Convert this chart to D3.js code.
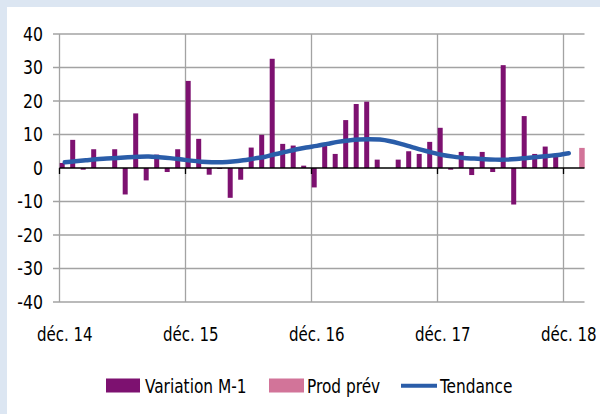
<!DOCTYPE html>
<html>
<head>
<meta charset="utf-8">
<script src="https://cdn.jsdelivr.net/npm/d3@7"></script>
<style>
  body { margin: 0; background: #dce6f2; }
  svg text { font-family: "Liberation Sans Narrow", "Arial Narrow", "DejaVu Sans Condensed", sans-serif; fill: #000; }
</style>
</head>
<body>
<div id="canvas"></div>
<script>
// months from déc. 14 to janv. 19
const months = d3.timeMonth.range(new Date(2014, 11, 1), new Date(2019, 1, 1));

const variation = [
  1.5, 8.4, -0.5, 5.6, null, 5.6, -7.9, 16.3, -3.7, 4.0, -1.2, 5.6,
  26.0, 8.7, -2.0, -0.3, -8.9, -3.5, 6.1, 9.9, 32.6, 7.2, 6.7, 0.7,
  -5.8, 6.7, 4.2, 14.3, 19.1, 19.8, 2.5, null, 2.5, 5.0, 4.2, 7.8,
  12.0, -0.5, 4.8, -2.1, 4.8, -1.2, 30.7, -10.9, 15.5, 4.2, 6.4, 3.4,
  null, null
];

const prodPrev = [
  null, null, null, null, null, null, null, null, null, null, null, null,
  null, null, null, null, null, null, null, null, null, null, null, null,
  null, null, null, null, null, null, null, null, null, null, null, null,
  null, null, null, null, null, null, null, null, null, null, null, null,
  null, 6.0
];

const tendance = [
  1.7, 2.0, 2.3, 2.6, 2.8, 3.0, 3.2, 3.35, 3.4, 3.2, 2.95, 2.6,
  2.2, 1.9, 1.75, 1.75, 1.95, 2.3, 2.8, 3.3, 4.1, 4.8, 5.5, 6.1,
  6.6, 7.2, 7.8, 8.2, 8.5, 8.6, 8.5, 8.0, 7.2, 6.3, 5.4, 4.6,
  3.9, 3.4, 3.0, 2.8, 2.6, 2.5, 2.5, 2.7, 3.0, 3.3, 3.6, 3.9,
  4.4
];

const yTicks = [-40, -30, -20, -10, 0, 10, 20, 30, 40];
const xTickIdx = [0, 12, 24, 36, 48];
const xTickLabels = ['déc. 14', 'déc. 15', 'déc. 16', 'déc. 17', 'déc. 18'];

const width = 600, height = 414;

const svg = d3.select('#canvas')
  .append('svg')
  .attr('width', width)
  .attr('height', height);

// white panel
svg.append('rect')
  .attr('x', 7).attr('y', 7)
  .attr('width', width - 7).attr('height', height - 7)
  .attr('fill', '#fff');

const x = d3.scaleBand()
  .domain(d3.range(months.length))
  .range([59.5, 584.5])
  .padding(0);

const y = d3.scaleLinear()
  .domain([-40, 40])
  .range([302, 34]);

const bw = x.bandwidth();

// narrow text helper (reference font is condensed)
function label(g, tx, ty, str, size, sx, anchor) {
  return g.append('text')
    .attr('transform', `translate(${tx},${ty}) scale(${sx},1)`)
    .attr('text-anchor', anchor || 'start')
    .style('font-size', size + 'px')
    .text(str);
}

// horizontal grid + left ticks
svg.append('g').selectAll('line')
  .data(yTicks.filter(d => d !== 0))
  .enter().append('line')
  .attr('x1', 53).attr('x2', 584.5)
  .attr('y1', d => y(d)).attr('y2', d => y(d))
  .attr('stroke', '#a3a3a3').attr('stroke-width', 1.3);

// vertical grid
svg.append('g').selectAll('line')
  .data(xTickIdx)
  .enter().append('line')
  .attr('x1', d => x(d)).attr('x2', d => x(d))
  .attr('y1', y(40)).attr('y2', y(-40))
  .attr('stroke', '#a3a3a3').attr('stroke-width', 1.3);

// y labels
const yg = svg.append('g');
yTicks.forEach(d => label(yg, 43, y(d) + 6.5, d, 19, 0.92, 'end'));

// bars
svg.append('g').selectAll('rect')
  .data(variation.map((v, i) => ({ i, v })).filter(d => d.v !== null))
  .enter().append('rect')
  .attr('x', d => x(d.i) + 0.2)
  .attr('width', 5)
  .attr('y', d => y(Math.max(0, d.v)))
  .attr('height', d => Math.abs(y(d.v) - y(0)))
  .attr('fill', '#7d1170');

svg.append('g').selectAll('rect')
  .data(prodPrev.map((v, i) => ({ i, v })).filter(d => d.v !== null))
  .enter().append('rect')
  .attr('x', d => x(d.i) + 5.2)
  .attr('width', 5.5)
  .attr('y', d => y(Math.max(0, d.v)))
  .attr('height', d => Math.abs(y(d.v) - y(0)))
  .attr('fill', '#d27499');

// zero axis with ticks
svg.append('line')
  .attr('x1', 59.5).attr('x2', 584.5)
  .attr('y1', y(0)).attr('y2', y(0))
  .attr('stroke', '#000').attr('stroke-width', 1.3);

svg.append('g').selectAll('line')
  .data(xTickIdx)
  .enter().append('line')
  .attr('x1', d => x(d)).attr('x2', d => x(d))
  .attr('y1', y(0)).attr('y2', y(0) + 6)
  .attr('stroke', '#000').attr('stroke-width', 1.3);

// trend
const line = d3.line()
  .x((d, i) => x(i) + bw / 2)
  .y(d => y(d))
  .curve(d3.curveCatmullRom);

svg.append('path')
  .datum(tendance)
  .attr('d', line)
  .attr('fill', 'none')
  .attr('stroke', '#2a5da9')
  .attr('stroke-width', 4.5)
  .attr('stroke-linecap', 'round');

// x labels
const xg = svg.append('g');
xTickIdx.forEach((d, i) => label(xg, x(d) + bw / 2, 341, xTickLabels[i], 19, 0.88, 'middle'));

// legend
const lg = svg.append('g');
lg.append('rect').attr('x', 106).attr('y', 378.5).attr('width', 34).attr('height', 14).attr('fill', '#7d1170');
label(lg, 145, 392.5, 'Variation M-1', 20, 0.855);
lg.append('rect').attr('x', 269).attr('y', 378.5).attr('width', 35).attr('height', 14).attr('fill', '#d27499');
label(lg, 307, 392.5, 'Prod prév', 20, 0.855);
lg.append('line').attr('x1', 401).attr('x2', 437).attr('y1', 385.7).attr('y2', 385.7)
  .attr('stroke', '#2a5da9').attr('stroke-width', 4);
label(lg, 440, 392.5, 'Tendance', 20, 0.855);
</script>
</body>
</html>
